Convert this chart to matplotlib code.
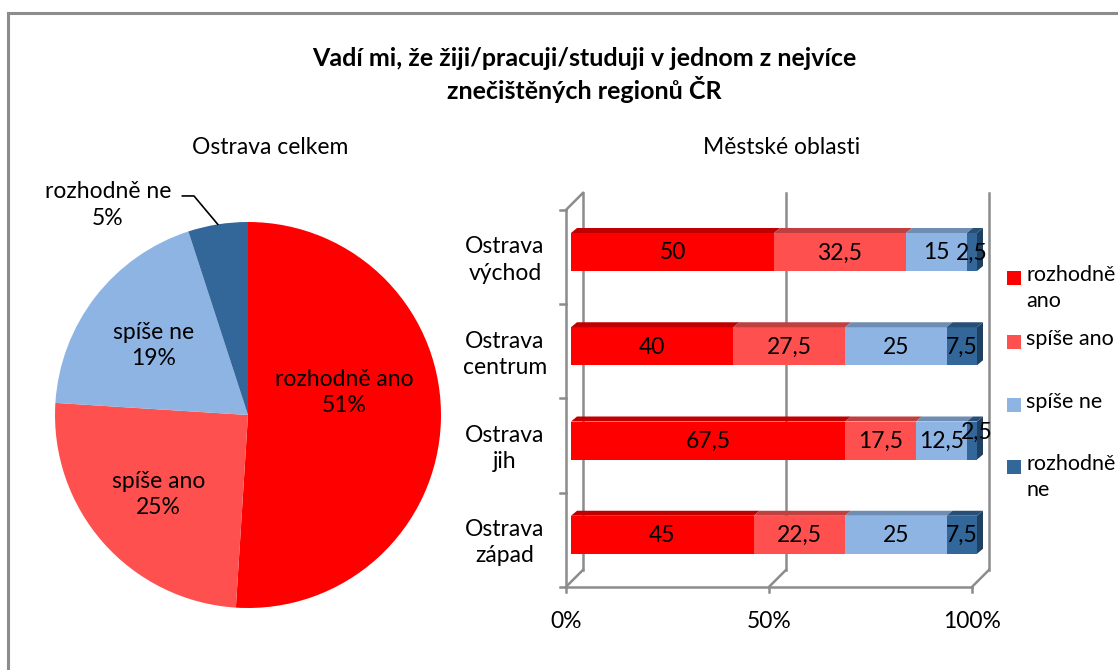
import matplotlib
matplotlib.use("Agg")
import matplotlib.pyplot as plt
from matplotlib.patches import Polygon, Rectangle
from matplotlib.lines import Line2D
import numpy as np

plt.rcParams['font.family'] = ['Lato', 'DejaVu Sans']

# ---------------- data ----------------
title = "Vadí mi, že žiji/pracuji/studuji v jednom z nejvíce\nznečištěných regionů ČR"
pie_title = "Ostrava celkem"
bar_title = "Městské oblasti"
series = ["rozhodně ano", "spíše ano", "spíše ne", "rozhodně ne"]
legend_labels = ["rozhodně\nano", "spíše ano", "spíše ne", "rozhodně\nne"]
pie_values = [51, 25, 19, 5]
pie_labels = ["rozhodně ano\n51%", "spíše ano\n25%", "spíše ne\n19%", "rozhodně ne\n5%"]
regions = ["Ostrava\nvýchod", "Ostrava\ncentrum", "Ostrava\njih", "Ostrava\nzápad"]
v_rozhodne_ano = [50, 40, 67.5, 45]
v_spise_ano = [32.5, 27.5, 17.5, 22.5]
v_spise_ne = [15, 25, 12.5, 25]
v_rozhodne_ne = [2.5, 7.5, 2.5, 7.5]
bar_values = [v_rozhodne_ano, v_spise_ano, v_spise_ne, v_rozhodne_ne]
bar_texts = [["50", "40", "67,5", "45"], ["32,5", "27,5", "17,5", "22,5"],
             ["15", "25", "12,5", "25"], ["2,5", "7,5", "2,5", "7,5"]]
xtick_vals = [0, 50, 100]
xtick_labels = ["0%", "50%", "100%"]

# ---------------- style ----------------
front = ["#FF0000", "#FF5050", "#8EB4E3", "#336699"]
top = ["#C00000", "#C04040", "#6F8DB3", "#284F78"]
side = ["#A00000", "#B03030", "#5F7FA8", "#1F4060"]
FS = 16.5
W, H = 1118, 670
fig = plt.figure(figsize=(W / 100, H / 100), dpi=100)
fig.patch.set_facecolor("white")

def fx(px):
    return px / W

def fy(py):
    return 1 - py / H

# figure border (top + left visible, right/bottom beyond edge)
fig.add_artist(Line2D([fx(8), fx(8)], [fy(13), fy(680)], color="#8C8C8C", lw=2.2,
                      transform=fig.transFigure))
fig.add_artist(Line2D([fx(8), fx(1130)], [fy(13), fy(13)], color="#8C8C8C", lw=2.2,
                      transform=fig.transFigure))

fig.text(fx(584), fy(75), title, ha="center", va="center", fontsize=18,
         fontweight="bold", linespacing=1.3)
fig.text(fx(270), fy(148), pie_title, ha="center", va="center", fontsize=FS)
fig.text(fx(782), fy(148), bar_title, ha="center", va="center", fontsize=FS)

# ---------------- pie ----------------
cx, cy, r = 248, 415, 193
axp = fig.add_axes([fx(cx - r), fy(cy + r), 2 * r / W, 2 * r / H])
wedges, _ = axp.pie(pie_values, colors=front, startangle=90, counterclock=False,
                    radius=1.0, wedgeprops=dict(linewidth=0))
axp.set_xlim(-1, 1)
axp.set_ylim(-1, 1)
axp.set_aspect("auto")
axp.axis("off")
label_r = [0.5, 0.62, 0.62]
label_dy = [0.13, 0.0, -0.02]
for i, w in enumerate(wedges):
    mid = np.deg2rad((w.theta1 + w.theta2) / 2)
    if i < 3:
        axp.text(label_r[i] * np.cos(mid), label_r[i] * np.sin(mid) + label_dy[i],
                 pie_labels[i], ha="center", va="center", fontsize=FS, linespacing=1.3)
    else:
        ex, ey = np.cos(mid), np.sin(mid)
        axp.plot([ex, -0.28, -0.34], [ey, 1.135, 1.135], color="black", lw=1.2,
                 clip_on=False)
        axp.text(-0.725, 1.088, pie_labels[i], ha="center", va="center", fontsize=FS,
                 linespacing=1.3, clip_on=False)

# ---------------- 3D-look stacked bars ----------------
ax_l, ax_r, ax_t, ax_b = 540, 1000, 185, 605
X0, SX = 571.0, 4.06        # bar plane: pixel of 0%, px per %
Y0, SY = 252.0, 94.25       # pixel of first category center, px per category
axb = fig.add_axes([fx(ax_l), fy(ax_b), (ax_r - ax_l) / W, (ax_b - ax_t) / H])
axb.set_xlim((ax_l - X0) / SX, (ax_r - X0) / SX)
axb.set_ylim((ax_b - Y0) / SY, (ax_t - Y0) / SY)
axb.axis("off")

def ddx(px):
    return px / SX

def ddy(py):
    return py / SY

gcol = "#8C8C8C"
glw = 1.8
# offsets of front and back planes relative to bar plane (pixels)
fo, bo = 5, 12
ybot = len(regions) - 0.5
ytop = -0.5
# left wall
axb.plot([ddx(-fo), ddx(-fo)], [ytop + ddy(fo), ybot + ddy(fo)], color=gcol, lw=glw)
axb.plot([ddx(-fo), ddx(bo)], [ytop + ddy(fo), ytop - ddy(bo)], color=gcol, lw=glw)
for k in range(len(regions) + 1):
    yk = ytop + k + ddy(fo)
    axb.plot([ddx(-fo - 6), ddx(-fo)], [yk, yk], color=gcol, lw=glw)
# back wall gridlines and floor
for v in xtick_vals:
    axb.plot([v + ddx(bo), v + ddx(bo)], [ytop - ddy(bo), ybot - ddy(bo)], color=gcol, lw=glw)
    axb.plot([v - ddx(fo), v + ddx(bo)], [ybot + ddy(fo), ybot - ddy(bo)], color=gcol, lw=glw)
    axb.plot([v - ddx(fo), v - ddx(fo)], [ybot + ddy(fo), ybot + ddy(fo + 5)], color=gcol, lw=glw)
axb.plot([xtick_vals[0] - ddx(fo), xtick_vals[-1] - ddx(fo)], [ybot + ddy(fo), ybot + ddy(fo)],
         color=gcol, lw=glw)
for v, t in zip(xtick_vals, xtick_labels):
    axb.text(v - ddx(fo), ybot + ddy(fo + 35), t, ha="center", va="center", fontsize=FS,
             clip_on=False)

# bars
bh = 38 / SY
dpx, dpy = 6, 5
ypos = np.arange(len(regions))
left = np.zeros(len(regions))
for s, vals in enumerate(bar_values):
    vals = np.array(vals, dtype=float)
    axb.barh(ypos, vals, left=left, height=bh, color=front[s], linewidth=0, zorder=3)
    for i in range(len(regions)):
        x1, x2 = left[i], left[i] + vals[i]
        yt = i - bh / 2
        yb = i + bh / 2
        axb.add_patch(Polygon([(x1, yt), (x2, yt), (x2 + ddx(dpx), yt - ddy(dpy)),
                               (x1 + ddx(dpx), yt - ddy(dpy))], closed=True,
                              facecolor=top[s], linewidth=0, zorder=3))
        if s == len(bar_values) - 1:
            axb.add_patch(Polygon([(x2, yt), (x2 + ddx(dpx), yt - ddy(dpy)),
                                   (x2 + ddx(dpx), yb - ddy(dpy)), (x2, yb)], closed=True,
                                  facecolor=side[s], linewidth=0, zorder=3))
        tx, ty = (x1 + x2) / 2, i + 0.01
        if s == 3 and i == 2:
            tx, ty = tx + 1.3, i - 0.09
        axb.text(tx, ty, bar_texts[s][i], ha="center", va="center", fontsize=FS, zorder=5)
    left += vals

for i, name in enumerate(regions):
    axb.text((505 - X0) / SX, i + ddy(8), name, ha="center", va="center", fontsize=FS,
             linespacing=1.3, clip_on=False)

# legend
leg_y = [278, 342, 405, 467]
for s, lab in enumerate(legend_labels):
    fig.add_artist(Rectangle((fx(1007), fy(leg_y[s] + 7)), 14 / W, 14 / H,
                             transform=fig.transFigure, facecolor=front[s], linewidth=0))
    fig.text(fx(1026), fy(leg_y[s] - 13), lab, ha="left", va="top", fontsize=15.5,
             linespacing=1.4)

fig.savefig("out.png", dpi=100)
